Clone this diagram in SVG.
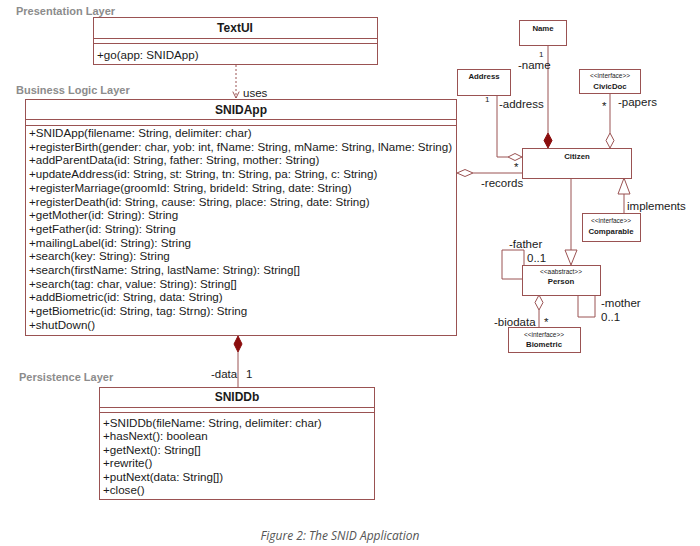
<svg xmlns="http://www.w3.org/2000/svg" width="700" height="546" viewBox="0 0 700 546">
  <style>
    .box { fill: #ffffff; stroke: #9a5252; stroke-width: 1; }
    .sep { stroke: #9a5252; stroke-width: 1; }
    .edge { fill: none; stroke: #9a5252; stroke-width: 1; }
    .layer { font-family: "Liberation Sans", Arial, sans-serif; font-size: 11px; font-weight: bold; fill: #8c8c8c; }
    .title { font-family: "Liberation Sans", Arial, sans-serif; font-size: 12px; font-weight: bold; fill: #1a1a1a; text-anchor: middle; }
    .member { font-family: "Liberation Sans", Arial, sans-serif; font-size: 11.6px; fill: #1a1a1a; }
    .small { font-family: "Liberation Sans", Arial, sans-serif; font-size: 7.8px; font-weight: bold; fill: #1a1a1a; text-anchor: middle; }
    .stereo { font-family: "Liberation Sans", Arial, sans-serif; font-size: 6.5px; fill: #1a1a1a; text-anchor: middle; }
    .lbl { font-family: "Liberation Sans", Arial, sans-serif; font-size: 11.5px; fill: #1a1a1a; }
    .caption { font-family: "Open Sans", "Liberation Sans", sans-serif; font-size: 12px; font-style: italic; fill: #555555; text-anchor: middle; }
  </style>
  <defs>
    <marker id="open-arrow" viewBox="0 0 10 10" refX="9" refY="5" markerWidth="8" markerHeight="8" orient="auto" markerUnits="userSpaceOnUse">
      <path d="M1,1 L9,5 L1,9" fill="none" stroke="#9a5252" stroke-width="1.2"/>
    </marker>
  </defs>

  <!-- layer headings -->
  <text class="layer" x="16" y="15">Presentation Layer</text>
  <text class="layer" x="16" y="94">Business Logic Layer</text>
  <text class="layer" x="19" y="381">Persistence Layer</text>

  <!-- connectors -->
  <g id="connectors">
    <!-- TextUI uses SNIDApp -->
    <line class="edge" x1="236" y1="65" x2="236" y2="98" stroke-dasharray="2,2" marker-end="url(#open-arrow)"/>
    <text class="lbl" x="243" y="97">uses</text>

    <!-- SNIDApp composes SNIDDb -->
    <line class="edge" x1="238" y1="352" x2="238" y2="387"/>
    <path d="M238,336 L242,344 L238,352 L234,344 Z" fill="#8b0d0d" stroke="#8b0d0d"/>
    <text class="lbl" x="211" y="378">-data</text>
    <text class="lbl" x="246" y="378">1</text>

    <!-- SNIDApp aggregates Citizen -->
    <line class="edge" x1="473" y1="173" x2="522" y2="173"/>
    <path d="M457,173 L465,169.5 L473,173 L465,176.5 Z" fill="#ffffff" stroke="#9a5252"/>
    <text class="lbl" x="514" y="171">*</text>
    <text class="lbl" x="481" y="187">-records</text>

    <!-- Citizen composes Name -->
    <line class="edge" x1="548" y1="45" x2="548" y2="133"/>
    <path d="M548,133 L552,140.5 L548,148 L544,140.5 Z" fill="#8b0d0d" stroke="#8b0d0d"/>
    <text class="lbl" x="539" y="57" style="font-size:8px">1</text>
    <text class="lbl" x="518" y="69">-name</text>

    <!-- Citizen aggregates Address -->
    <polyline class="edge" points="497,95 497,157 508,157"/>
    <path d="M508,157 L515,153.5 L522,157 L515,160.5 Z" fill="#ffffff" stroke="#9a5252"/>
    <text class="lbl" x="485" y="102" style="font-size:8px">1</text>
    <text class="lbl" x="499" y="108">-address</text>

    <!-- Citizen aggregates CivicDoc -->
    <line class="edge" x1="610" y1="93" x2="610" y2="133"/>
    <path d="M610,133 L614,140.5 L610,148 L606,140.5 Z" fill="#ffffff" stroke="#9a5252"/>
    <text class="lbl" x="602" y="110">*</text>
    <text class="lbl" x="618" y="106">-papers</text>

    <!-- Citizen implements Comparable -->
    <line class="edge" x1="624" y1="194" x2="624" y2="213"/>
    <path d="M624,178 L630,194 L618,194 Z" fill="#ffffff" stroke="#9a5252"/>
    <text class="lbl" x="627" y="210">implements</text>

    <!-- Citizen extends Person -->
    <line class="edge" x1="571" y1="178" x2="571" y2="250"/>
    <path d="M571,265 L577,250 L565,250 Z" fill="#ffffff" stroke="#9a5252"/>

    <!-- Person father self-association -->
    <polyline class="edge" points="524,265 524,250 502,250 502,279 522,279"/>
    <text class="lbl" x="509" y="248">-father</text>
    <text class="lbl" x="527" y="262">0..1</text>

    <!-- Person mother self-association -->
    <polyline class="edge" points="595,295 595,317 578,317 578,295"/>
    <text class="lbl" x="601" y="307">-mother</text>
    <text class="lbl" x="601" y="321">0..1</text>

    <!-- Person aggregates Biometric -->
    <line class="edge" x1="539" y1="310" x2="539" y2="327"/>
    <path d="M539,295 L543,302.5 L539,310 L535,302.5 Z" fill="#ffffff" stroke="#9a5252"/>
    <text class="lbl" x="494" y="326">-biodata</text>
    <text class="lbl" x="544" y="326">*</text>
  </g>

  <!-- TextUI -->
  <g id="textui">
    <rect class="box" x="93.5" y="17.5" width="284" height="47"/>
    <line class="sep" x1="93.5" y1="38.5" x2="377.5" y2="38.5"/>
    <line class="sep" x1="93.5" y1="43.5" x2="377.5" y2="43.5"/>
    <text class="title" x="235" y="32">TextUI</text>
    <text class="member" x="97" y="59">+go(app: SNIDApp)</text>
  </g>

  <!-- SNIDApp -->
  <g id="snidapp">
    <rect class="box" x="25.5" y="99.5" width="431" height="236"/>
    <line class="sep" x1="25.5" y1="119.5" x2="456.5" y2="119.5"/>
    <line class="sep" x1="25.5" y1="125.5" x2="456.5" y2="125.5"/>
    <text class="title" x="241" y="114">SNIDApp</text>
    <text class="member" x="29" y="137">+SNIDApp(filename: String, delimiter: char)</text>
    <text class="member" x="29" y="150.7">+registerBirth(gender: char, yob: int, fName: String, mName: String, lName: String)</text>
    <text class="member" x="29" y="164.4">+addParentData(id: String, father: String, mother: String)</text>
    <text class="member" x="29" y="178.1">+updateAddress(id: String, st: String, tn: String, pa: String, c: String)</text>
    <text class="member" x="29" y="191.8">+registerMarriage(groomId: String, brideId: String, date: String)</text>
    <text class="member" x="29" y="205.5">+registerDeath(id: String, cause: String, place: String, date: String)</text>
    <text class="member" x="29" y="219.2">+getMother(id: String): String</text>
    <text class="member" x="29" y="232.9">+getFather(id: String): String</text>
    <text class="member" x="29" y="246.6">+mailingLabel(id: String): String</text>
    <text class="member" x="29" y="260.3">+search(key: String): String</text>
    <text class="member" x="29" y="274">+search(firstName: String, lastName: String): String[]</text>
    <text class="member" x="29" y="287.7">+search(tag: char, value: String): String[]</text>
    <text class="member" x="29" y="301.4">+addBiometric(id: String, data: String)</text>
    <text class="member" x="29" y="315.1">+getBiometric(id: String, tag: Strng): String</text>
    <text class="member" x="29" y="328.8">+shutDown()</text>
  </g>

  <!-- SNIDDb -->
  <g id="sniddb">
    <rect class="box" x="99.5" y="387.5" width="275" height="112"/>
    <line class="sep" x1="99.5" y1="407.5" x2="374.5" y2="407.5"/>
    <line class="sep" x1="99.5" y1="412.5" x2="374.5" y2="412.5"/>
    <text class="title" x="237" y="401">SNIDDb</text>
    <text class="member" x="103" y="427">+SNIDDb(fileName: String, delimiter: char)</text>
    <text class="member" x="103" y="440.4">+hasNext(): boolean</text>
    <text class="member" x="103" y="453.8">+getNext(): String[]</text>
    <text class="member" x="103" y="467.2">+rewrite()</text>
    <text class="member" x="103" y="480.6">+putNext(data: String[])</text>
    <text class="member" x="103" y="494">+close()</text>
  </g>

  <!-- Name -->
  <g id="name">
    <rect class="box" x="519.5" y="20.5" width="47" height="25"/>
    <text class="small" x="543" y="31">Name</text>
  </g>

  <!-- Address -->
  <g id="address">
    <rect class="box" x="457.5" y="69.5" width="53" height="26"/>
    <text class="small" x="484" y="79">Address</text>
  </g>

  <!-- CivicDoc -->
  <g id="civicdoc">
    <rect class="box" x="579.5" y="69.5" width="61" height="24"/>
    <text class="stereo" x="610" y="78">&lt;&lt;interface&gt;&gt;</text>
    <text class="small" x="610" y="89">CivicDoc</text>
  </g>

  <!-- Citizen -->
  <g id="citizen">
    <rect class="box" x="522.5" y="148.5" width="109" height="30"/>
    <text class="small" x="577" y="159">Citizen</text>
  </g>

  <!-- Comparable -->
  <g id="comparable">
    <rect class="box" x="582.5" y="213.5" width="58" height="28"/>
    <text class="stereo" x="611" y="223">&lt;&lt;interface&gt;&gt;</text>
    <text class="small" x="611" y="234">Comparable</text>
  </g>

  <!-- Person -->
  <g id="person">
    <rect class="box" x="522.5" y="265.5" width="78" height="30"/>
    <text class="stereo" x="561" y="274">&lt;&lt;aabstract&gt;&gt;</text>
    <text class="small" x="561" y="284">Person</text>
  </g>

  <!-- Biometric -->
  <g id="biometric">
    <rect class="box" x="508.5" y="327.5" width="72" height="25"/>
    <text class="stereo" x="544" y="337">&lt;&lt;interface&gt;&gt;</text>
    <text class="small" x="544" y="347">Biometric</text>
  </g>

  <text class="caption" x="340" y="540">Figure 2: The SNID Application</text>
</svg>
